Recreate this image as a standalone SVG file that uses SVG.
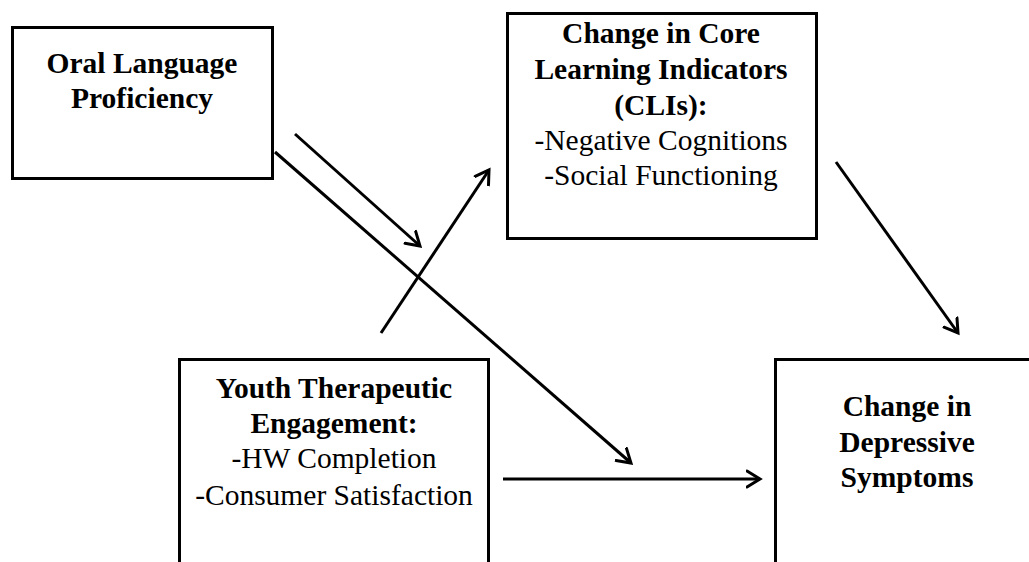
<svg xmlns="http://www.w3.org/2000/svg" width="1029" height="562" viewBox="0 0 1029 562">
<defs>
<style>
.box{fill:#fff;stroke:#000;stroke-width:3}
.t{font-family:"Liberation Serif","Times New Roman",serif;font-size:29.5px;fill:#000;text-anchor:middle}
.b{font-weight:bold}
.c{stroke:#000;stroke-width:3;fill:none}
</style>
<marker id="ah" markerUnits="userSpaceOnUse" markerWidth="20" markerHeight="20" refX="14" refY="9" orient="auto" viewBox="0 0 20 18">
<path d="M1,1 L14,9 L1,17" fill="none" stroke="#000" stroke-width="3" stroke-linecap="round" stroke-linejoin="miter"/>
</marker>
</defs>
<rect width="1029" height="562" fill="#fff"/>
<g id="node-oral">
<rect class="box" x="12.5" y="27.5" width="260" height="151"/>
<text class="t b" x="142" y="73">Oral Language</text>
<text class="t b" x="142" y="108">Proficiency</text>
</g>
<g id="node-cli">
<rect class="box" x="507.5" y="13.5" width="309" height="225"/>
<text class="t b" x="661" y="43">Change in Core</text>
<text class="t b" x="661" y="79">Learning Indicators</text>
<text class="t b" x="661" y="115">(CLIs):</text>
<text class="t" x="661" y="150">-Negative Cognitions</text>
<text class="t" x="661" y="185">-Social Functioning</text>
</g>
<g id="node-youth">
<rect class="box" x="179.5" y="359.5" width="309" height="220"/>
<text class="t b" x="334" y="398">Youth Therapeutic</text>
<text class="t b" x="334" y="433">Engagement:</text>
<text class="t" x="334" y="468">-HW Completion</text>
<text class="t" x="334" y="505">-Consumer Satisfaction</text>
</g>
<g id="node-dep">
<rect class="box" x="775.5" y="359.5" width="270" height="220"/>
<text class="t b" x="907" y="416">Change in</text>
<text class="t b" x="907" y="452">Depressive</text>
<text class="t b" x="907" y="487">Symptoms</text>
</g>
<g id="connectors">
<line class="c" x1="295" y1="134" x2="420" y2="246" marker-end="url(#ah)"/>
<line class="c" x1="275" y1="152" x2="631" y2="463" marker-end="url(#ah)"/>
<line class="c" x1="381" y1="333" x2="489" y2="170" marker-end="url(#ah)"/>
<line class="c" x1="503" y1="479" x2="760" y2="479" marker-end="url(#ah)"/>
<line class="c" x1="836" y1="162" x2="958" y2="333" marker-end="url(#ah)"/>
</g>
</svg>
